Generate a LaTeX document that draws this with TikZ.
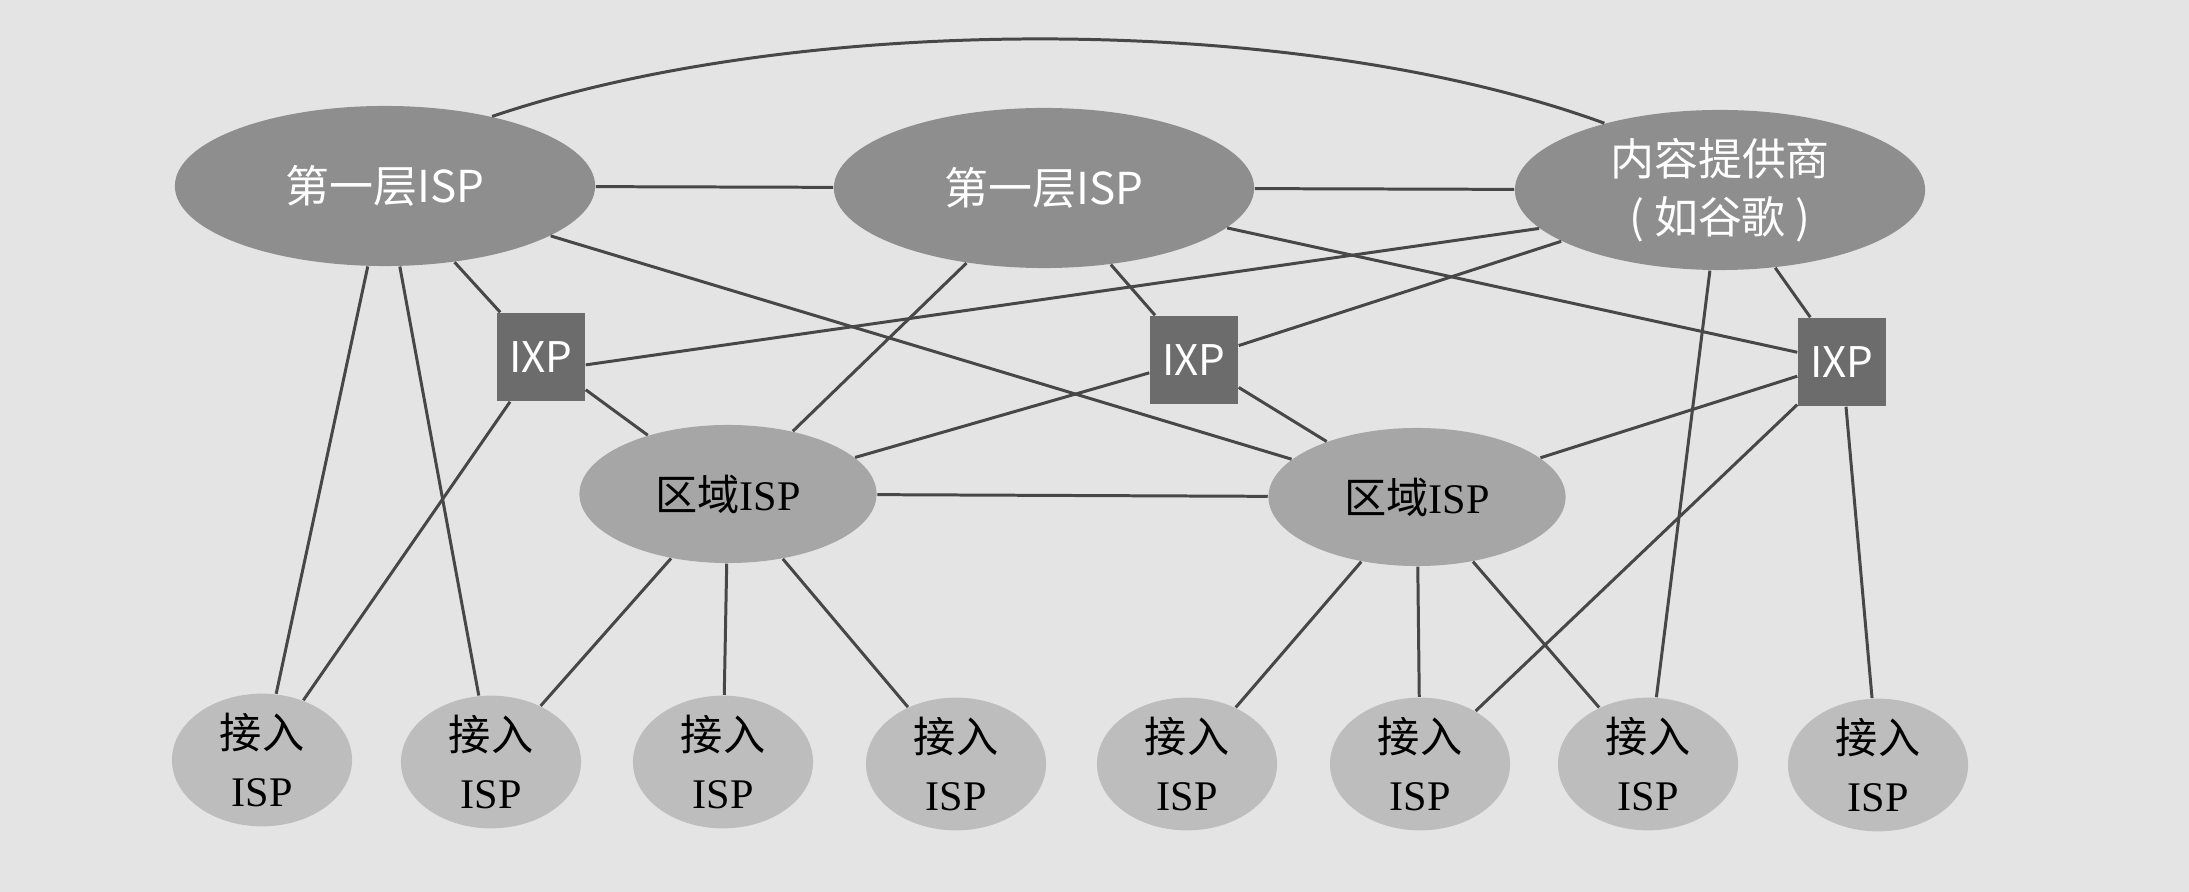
\documentclass[tikz,border=0pt]{standalone}
\usepackage{fontspec}
\setmainfont{Liberation Serif}
\newfontfamily\cjk{Noto Sans CJK SC}
\usepackage{tikz}
\usetikzlibrary{shapes.geometric}
\definecolor{bggray}{HTML}{E4E4E4}
\definecolor{tiergray}{HTML}{8E8E8E}
\definecolor{ixpgray}{HTML}{6C6C6C}
\definecolor{reggray}{HTML}{A6A6A6}
\definecolor{accgray}{HTML}{BDBDBD}
\definecolor{linegray}{HTML}{474747}
\tikzset{
	tierone/.style={ellipse, fill=tiergray, text=white, inner sep=0pt, minimum width=4.2cm, minimum height=1.6cm, align=center, font=\cjk\fontsize{12.5}{16.5}\selectfont},
	ixpbox/.style={rectangle, fill=ixpgray, text=white, inner sep=0pt, minimum width=0.88cm, minimum height=0.88cm, font=\cjk\fontsize{12}{14}\selectfont},
	regional/.style={ellipse, fill=reggray, inner sep=0pt, minimum width=2.97cm, minimum height=1.38cm, font=\fontsize{12}{14}\selectfont},
	access/.style={ellipse, fill=accgray, inner sep=0pt, minimum width=1.8cm, minimum height=1.28cm, align=center, font=\fontsize{12}{16.5}\selectfont},
	link/.style={draw=linegray, line width=0.85pt},
}
\begin{document}
\begin{tikzpicture}[x=0.01cm,y=-0.01cm]
	\fill[bggray] (0,0) rectangle (2189,892);
	% tier one and content provider
	\node[tierone] (t1a) at (385,186) {第一层ISP};
	\node[tierone] (t1b) at (1044,188) {第一层ISP};
	\node[tierone, minimum width=4.1cm] (cp) at (1720,190) {内容提供商\\( 如谷歌 )};
	% exchange points
	\node[ixpbox] (ixp1) at (541,357) {IXP};
	\node[ixpbox] (ixp2) at (1194,360) {IXP};
	\node[ixpbox] (ixp3) at (1842,362) {IXP};
	% regional
	\node[regional] (reg1) at (728,494) {{\cjk 区域}ISP};
	\node[regional] (reg2) at (1417,497) {{\cjk 区域}ISP};
	% access
	\node[access] (acc1) at (262,760) {{\cjk 接入}\\ISP};
	\node[access] (acc2) at (491,762) {{\cjk 接入}\\ISP};
	\node[access] (acc3) at (723,762) {{\cjk 接入}\\ISP};
	\node[access] (acc4) at (956,764) {{\cjk 接入}\\ISP};
	\node[access] (acc5) at (1187,764) {{\cjk 接入}\\ISP};
	\node[access] (acc6) at (1420,764) {{\cjk 接入}\\ISP};
	\node[access] (acc7) at (1648,764) {{\cjk 接入}\\ISP};
	\node[access] (acc8) at (1878,765) {{\cjk 接入}\\ISP};

	\draw[link] (t1a.33) .. controls (800,12) and (1300,12) .. (cp.150);
	\draw[link] (t1a) -- (t1b) (t1b) -- (cp);
	\draw[link] (t1a) -- (ixp1) (t1a) -- (reg2) (t1a) -- (acc1) (t1a) -- (acc2);
	\draw[link] (ixp1) -- (acc1) (ixp1) -- (reg1) (ixp1.-10) -- (cp.192);
	\draw[link] (t1b) -- (reg1) (t1b) -- (ixp2) (t1b) -- (ixp3);
	\draw[link] (ixp2) -- (cp) (ixp2) -- (reg1) (ixp2) -- (reg2);
	\draw[link] (reg1) -- (reg2) (reg2) -- (ixp3);
	\draw[link] (ixp3) -- (cp) (cp) -- (acc7) (ixp3) -- (acc6) (ixp3) -- (acc8);
	\draw[link] (reg1) -- (acc2) (reg1) -- (acc3) (reg1) -- (acc4);
	\draw[link] (reg2) -- (acc5) (reg2) -- (acc6) (reg2) -- (acc7);
\end{tikzpicture}
\end{document}
